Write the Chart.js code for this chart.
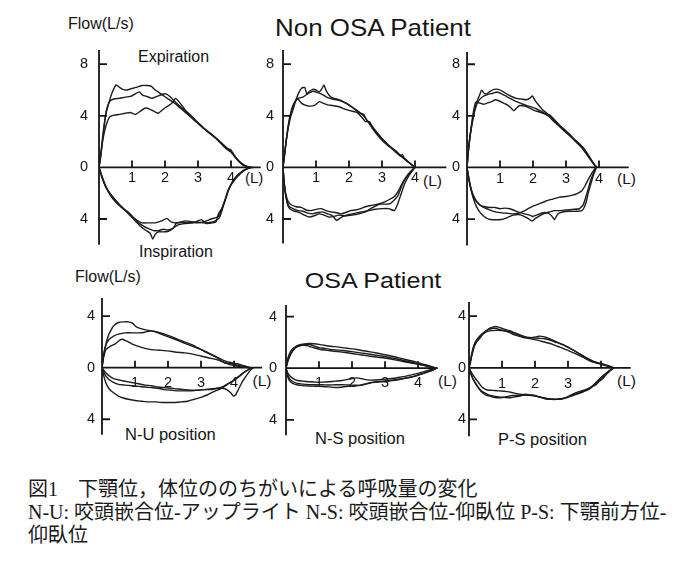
<!DOCTYPE html>
<html lang="ja">
<head>
<meta charset="utf-8">
<title>Flow-volume loops</title>
<script src="https://cdn.jsdelivr.net/npm/chart.js@4.4.1/dist/chart.umd.min.js"></script>
<style>
    html, body { margin: 0; padding: 0; background: #fff; }
    #fig { position: relative; width: 689px; height: 571px; overflow: hidden; font-family: "Liberation Sans", Arial, sans-serif; color: #151515; }
    #fig canvas { position: absolute; }
    .lbl { position: absolute; white-space: nowrap; line-height: 1; }
    .caption { position: absolute; left: 28px; top: 478px; font-family: "Liberation Serif", "Noto Sans CJK JP", serif; font-size: 20px; line-height: 23px; white-space: nowrap; color: #1a1a1a; }
</style>
</head>
<body>
<div id="fig">
    <div class="caption">図1　下顎位，体位ののちがいによる呼吸量の変化<br>N-U: 咬頭嵌合位-アップライト N-S: 咬頭嵌合位-仰臥位 P-S: 下顎前方位-<br>仰臥位</div>
</div>
<script>
// ===== Ticks =====
const yTicksNonOsa = [8, 4, 0, -4];
const yTicksOsa = [4, 0, -4];
const xTicks = [1, 2, 3, 4];
const xLabelsPS = [1, 2, 3];

// ===== Curvas flujo-volumen: [volumen (L), flujo (L/s)], inspiracion negativa =====
// Non OSA - izquierda
const nonOsa1ExpA = [[0,0],[0.05,0.8],[0.12,2.4],[0.2,4.0],[0.3,5.0],[0.4,5.8],[0.52,6.4],[0.62,6.2],[0.72,6.05],[0.85,6.0],[0.98,6.1],[1.12,6.2],[1.3,6.35],[1.45,6.35],[1.58,6.3],[1.7,6.0],[1.82,5.8],[1.95,5.55],[2.1,5.3],[2.25,5.05],[2.4,4.75],[2.6,4.3],[2.8,3.85],[3.0,3.4],[3.2,2.95],[3.4,2.55],[3.6,2.1],[3.75,1.7],[3.9,1.35],[4.0,1.2],[4.1,0.85],[4.2,0.55],[4.35,0.2],[4.55,0]];
const nonOsa1ExpB = [[0,0],[0.06,1.2],[0.14,3.0],[0.22,4.4],[0.32,5.1],[0.45,5.3],[0.6,5.35],[0.8,5.45],[0.95,5.5],[1.1,5.7],[1.22,5.85],[1.32,5.6],[1.45,5.5],[1.6,5.35],[1.75,5.5],[1.9,5.65],[2.02,5.7],[2.15,5.5],[2.3,5.1],[2.45,4.75],[2.6,4.4],[2.8,3.95],[3.0,3.45],[3.2,3.0],[3.4,2.6],[3.6,2.15],[3.8,1.65],[3.95,1.3],[4.05,1.1],[4.15,0.75],[4.3,0.35],[4.45,0.1],[4.6,0]];
const nonOsa1ExpC = [[0,0],[0.05,0.9],[0.12,2.2],[0.22,3.3],[0.32,3.9],[0.45,4.05],[0.6,4.1],[0.8,4.2],[0.95,4.25],[1.1,4.1],[1.25,4.35],[1.4,4.6],[1.55,4.5],[1.7,4.3],[1.8,4.2],[1.92,4.45],[2.05,4.7],[2.2,4.95],[2.32,5.35],[2.42,5.1],[2.5,4.85],[2.6,4.5],[2.75,4.1],[2.95,3.6],[3.15,3.1],[3.35,2.65],[3.55,2.25],[3.75,1.8],[3.9,1.45],[4.0,1.35],[4.08,1.0],[4.2,0.6],[4.35,0.25],[4.5,0.05],[4.65,0]];
const nonOsa1InsA = [[0,0],[0.08,-0.6],[0.18,-1.3],[0.3,-1.9],[0.45,-2.4],[0.6,-2.85],[0.75,-3.2],[0.9,-3.5],[1.05,-3.9],[1.2,-4.3],[1.35,-4.55],[1.5,-4.75],[1.65,-4.9],[1.8,-4.9],[1.95,-4.8],[2.1,-4.85],[2.25,-4.7],[2.4,-4.45],[2.6,-4.35],[2.8,-4.3],[3.0,-4.25],[3.2,-4.3],[3.4,-4.25],[3.55,-4.1],[3.65,-3.9],[3.72,-3.4],[3.8,-2.7],[3.88,-2.0],[3.98,-1.4],[4.1,-0.9],[4.25,-0.5],[4.4,-0.2],[4.6,0]];
const nonOsa1InsB = [[0,0],[0.08,-0.7],[0.2,-1.5],[0.35,-2.1],[0.5,-2.55],[0.65,-2.95],[0.8,-3.35],[0.95,-3.75],[1.1,-4.15],[1.25,-4.55],[1.4,-4.85],[1.55,-5.1],[1.63,-5.55],[1.7,-5.2],[1.8,-5.0],[1.95,-5.0],[2.1,-4.95],[2.25,-4.7],[2.35,-4.3],[2.5,-4.25],[2.7,-4.3],[2.9,-4.25],[3.1,-4.05],[3.25,-4.35],[3.45,-4.3],[3.55,-4.2],[3.62,-3.6],[3.72,-3.2],[3.82,-2.6],[3.92,-1.8],[4.05,-1.1],[4.2,-0.6],[4.38,-0.25],[4.55,0]];
const nonOsa1InsC = [[0,0],[0.1,-0.8],[0.22,-1.6],[0.38,-2.3],[0.55,-2.8],[0.7,-3.15],[0.85,-3.45],[1.0,-3.8],[1.15,-4.1],[1.3,-4.3],[1.5,-4.3],[1.7,-4.3],[1.9,-4.15],[2.05,-3.95],[2.2,-4.25],[2.4,-4.3],[2.6,-4.15],[2.8,-4.2],[3.0,-4.3],[3.2,-4.2],[3.4,-4.0],[3.55,-3.9],[3.65,-3.7],[3.75,-3.0],[3.85,-2.3],[3.95,-1.6],[4.1,-1.0],[4.3,-0.45],[4.5,-0.1],[4.7,0]];

// Non OSA - centro
const nonOsa2ExpA = [[0,0],[0.05,1.0],[0.12,2.5],[0.22,3.8],[0.32,4.6],[0.4,5.3],[0.48,5.8],[0.57,6.15],[0.66,6.2],[0.72,5.7],[0.8,5.9],[0.9,6.05],[1.0,6.0],[1.1,5.85],[1.18,6.1],[1.24,6.4],[1.3,6.0],[1.38,5.65],[1.48,5.4],[1.62,5.3],[1.78,5.15],[1.95,4.9],[2.1,4.65],[2.25,4.35],[2.4,4.1],[2.55,3.65],[2.7,3.05],[2.85,2.55],[3.0,2.1],[3.15,1.75],[3.3,1.45],[3.45,1.1],[3.6,0.8],[3.75,0.5],[3.88,0.25],[4.0,0]];
const nonOsa2ExpB = [[0,0],[0.06,1.3],[0.15,3.0],[0.25,4.3],[0.35,5.0],[0.45,5.35],[0.6,5.45],[0.75,5.7],[0.9,5.9],[1.05,5.8],[1.2,5.65],[1.35,5.4],[1.5,5.3],[1.7,5.2],[1.9,5.0],[2.05,4.75],[2.2,4.5],[2.35,4.2],[2.45,4.1],[2.55,3.6],[2.7,3.2],[2.85,2.7],[3.0,2.25],[3.15,1.85],[3.3,1.5],[3.45,1.2],[3.55,0.9],[3.62,1.0],[3.7,0.6],[3.85,0.3],[4.0,0]];
const nonOsa2ExpC = [[0,0],[0.07,1.5],[0.16,3.3],[0.26,4.5],[0.36,5.1],[0.45,5.3],[0.55,5.0],[0.65,4.85],[0.8,4.75],[0.95,4.8],[1.1,5.1],[1.2,5.0],[1.35,4.85],[1.5,4.8],[1.7,4.7],[1.9,4.5],[2.1,4.35],[2.25,4.25],[2.4,3.85],[2.5,3.55],[2.62,3.55],[2.72,3.1],[2.85,2.6],[3.0,2.2],[3.15,1.8],[3.3,1.5],[3.45,1.2],[3.6,0.85],[3.75,0.55],[3.9,0.2],[3.98,0]];
const nonOsa2InsA = [[0,0],[0.03,-1.0],[0.08,-2.0],[0.15,-2.6],[0.25,-2.9],[0.4,-3.05],[0.55,-3.1],[0.7,-3.3],[0.85,-3.35],[1.0,-3.25],[1.15,-3.2],[1.3,-3.35],[1.45,-3.45],[1.6,-3.5],[1.75,-3.6],[1.9,-3.5],[2.05,-3.35],[2.2,-3.3],[2.35,-3.2],[2.5,-3.05],[2.65,-2.95],[2.8,-2.9],[2.95,-2.8],[3.1,-2.65],[3.25,-2.45],[3.38,-2.25],[3.48,-1.9],[3.58,-1.4],[3.68,-0.95],[3.8,-0.55],[3.9,-0.25],[4.0,0]];
const nonOsa2InsB = [[0,0],[0.04,-1.3],[0.1,-2.4],[0.18,-3.0],[0.3,-3.2],[0.45,-3.35],[0.6,-3.4],[0.75,-3.55],[0.9,-3.6],[1.05,-3.5],[1.2,-3.45],[1.35,-3.6],[1.5,-3.75],[1.62,-4.1],[1.72,-3.95],[1.82,-3.8],[2.0,-3.65],[2.2,-3.55],[2.4,-3.45],[2.6,-3.35],[2.8,-3.25],[3.0,-3.2],[3.2,-3.2],[3.38,-3.35],[3.45,-3.0],[3.52,-2.5],[3.6,-1.9],[3.68,-1.3],[3.78,-0.8],[3.9,-0.35],[4.0,0]];
const nonOsa2InsC = [[0,0],[0.05,-1.6],[0.12,-2.7],[0.2,-3.2],[0.35,-3.4],[0.5,-3.5],[0.65,-3.7],[0.8,-3.85],[0.95,-3.75],[1.1,-3.6],[1.25,-3.7],[1.4,-3.85],[1.55,-3.8],[1.7,-3.7],[1.9,-3.75],[2.1,-3.7],[2.3,-3.6],[2.5,-3.45],[2.65,-3.2],[2.8,-3.0],[2.95,-2.85],[3.1,-2.85],[3.25,-2.8],[3.38,-2.5],[3.48,-2.2],[3.56,-1.7],[3.62,-1.3],[3.72,-0.8],[3.85,-0.35],[4.0,0]];

// Non OSA - derecha
const nonOsa3ExpA = [[0,0],[0.03,1.0],[0.08,2.2],[0.15,3.3],[0.22,4.3],[0.3,5.1],[0.38,5.6],[0.44,6.0],[0.52,5.75],[0.6,5.7],[0.7,5.9],[0.82,6.05],[0.95,6.05],[1.08,5.9],[1.2,5.7],[1.35,5.5],[1.5,5.35],[1.65,5.3],[1.8,5.25],[1.92,5.4],[1.98,5.55],[2.06,5.2],[2.15,4.9],[2.28,4.5],[2.42,4.2],[2.55,3.9],[2.7,3.5],[2.85,3.15],[3.0,2.75],[3.15,2.4],[3.3,2.05],[3.45,1.65],[3.58,1.2],[3.7,0.75],[3.82,0.35],[3.92,0]];
const nonOsa3ExpB = [[0,0],[0.04,1.2],[0.1,2.6],[0.18,3.8],[0.27,4.7],[0.36,5.2],[0.48,5.5],[0.62,5.65],[0.78,5.75],[0.92,5.85],[1.05,5.7],[1.2,5.5],[1.35,5.3],[1.5,5.1],[1.65,4.95],[1.8,4.8],[1.95,4.7],[2.1,4.55],[2.25,4.35],[2.4,4.15],[2.52,4.05],[2.65,3.7],[2.8,3.3],[2.95,2.95],[3.1,2.6],[3.25,2.2],[3.4,1.85],[3.55,1.45],[3.68,0.95],[3.8,0.45],[3.9,0]];
const nonOsa3ExpC = [[0,0],[0.05,1.5],[0.12,3.0],[0.2,4.4],[0.26,5.05],[0.38,5.0],[0.5,4.9],[0.62,5.0],[0.75,5.1],[0.86,5.25],[0.98,5.15],[1.1,5.0],[1.22,4.85],[1.32,4.65],[1.42,4.4],[1.52,4.65],[1.6,4.8],[1.75,4.75],[1.9,4.6],[2.05,4.4],[2.2,4.3],[2.35,4.15],[2.48,3.95],[2.6,3.65],[2.75,3.3],[2.9,2.95],[3.05,2.6],[3.2,2.25],[3.35,1.85],[3.5,1.45],[3.62,1.05],[3.75,0.6],[3.85,0.25],[3.95,0]];
const nonOsa3InsA = [[0,0],[0.05,-0.8],[0.12,-1.6],[0.2,-2.2],[0.3,-2.65],[0.42,-2.95],[0.55,-3.05],[0.7,-3.1],[0.85,-3.1],[1.0,-3.2],[1.15,-3.15],[1.3,-3.2],[1.45,-3.35],[1.6,-3.5],[1.75,-3.6],[1.9,-3.7],[2.0,-3.8],[2.1,-3.7],[2.25,-3.55],[2.4,-3.5],[2.55,-3.7],[2.65,-4.05],[2.75,-3.6],[2.9,-3.45],[3.1,-3.4],[3.3,-3.4],[3.48,-3.35],[3.55,-3.1],[3.62,-2.6],[3.68,-1.9],[3.75,-1.3],[3.83,-0.6],[3.92,0]];
const nonOsa3InsB = [[0,0],[0.06,-1.0],[0.14,-1.9],[0.24,-2.5],[0.36,-2.85],[0.5,-3.1],[0.65,-3.25],[0.8,-3.4],[1.0,-3.5],[1.2,-3.55],[1.4,-3.6],[1.55,-3.55],[1.7,-3.4],[1.85,-3.2],[2.0,-3.0],[2.2,-2.8],[2.4,-2.6],[2.6,-2.45],[2.8,-2.3],[3.0,-2.25],[3.2,-2.15],[3.35,-2.0],[3.48,-1.8],[3.58,-1.4],[3.68,-0.9],[3.78,-0.45],[3.9,0]];
const nonOsa3InsC = [[0,0],[0.04,-0.6],[0.1,-1.4],[0.18,-2.3],[0.28,-3.0],[0.4,-3.5],[0.52,-3.8],[0.65,-4.0],[0.8,-4.05],[0.95,-4.05],[1.1,-4.0],[1.25,-3.85],[1.4,-3.7],[1.55,-3.65],[1.7,-3.75],[1.85,-3.95],[1.97,-4.15],[2.07,-3.95],[2.2,-3.75],[2.35,-3.55],[2.5,-3.45],[2.65,-3.35],[2.8,-3.35],[3.0,-3.3],[3.2,-3.25],[3.4,-3.2],[3.52,-2.9],[3.6,-2.3],[3.68,-1.6],[3.76,-0.9],[3.85,-0.35],[3.92,0]];

// OSA - N-U
const osaNUExpA = [[0,0],[0.04,0.8],[0.1,1.6],[0.18,2.4],[0.28,2.95],[0.38,3.3],[0.5,3.5],[0.65,3.55],[0.8,3.55],[0.92,3.45],[1.02,3.2],[1.15,3.05],[1.3,2.95],[1.5,2.85],[1.7,2.75],[1.9,2.6],[2.1,2.4],[2.3,2.2],[2.5,2.0],[2.7,1.8],[2.9,1.55],[3.1,1.3],[3.3,1.05],[3.5,0.8],[3.7,0.55],[3.9,0.4],[4.1,0.3],[4.3,0.15],[4.5,0]];
const osaNUExpB = [[0,0],[0.05,1.0],[0.12,1.8],[0.22,2.2],[0.35,2.45],[0.5,2.6],[0.7,2.7],[0.9,2.7],[1.1,2.7],[1.3,2.75],[1.5,2.85],[1.6,2.8],[1.75,2.65],[1.95,2.45],[2.15,2.25],[2.35,2.05],[2.55,1.85],[2.75,1.65],[2.95,1.45],[3.15,1.2],[3.35,0.95],[3.55,0.65],[3.7,0.4],[3.9,0.3],[4.1,0.2],[4.3,0.08],[4.45,0]];
const osaNUExpC = [[0,0],[0.05,0.8],[0.12,1.4],[0.25,1.65],[0.4,1.85],[0.55,2.15],[0.62,2.2],[0.75,2.05],[0.9,1.85],[1.1,1.65],[1.3,1.5],[1.5,1.4],[1.75,1.35],[2.0,1.3],[2.25,1.2],[2.5,1.15],[2.75,1.05],[3.0,0.9],[3.25,0.75],[3.5,0.6],[3.7,0.4],[3.85,0.25],[4.05,0.15],[4.25,0.05],[4.45,0]];
const osaNUInsA = [[0,0],[0.08,-0.3],[0.2,-0.6],[0.35,-0.85],[0.5,-0.95],[0.7,-1.05],[0.9,-1.15],[1.1,-1.25],[1.3,-1.35],[1.5,-1.4],[1.7,-1.5],[1.9,-1.55],[2.1,-1.6],[2.3,-1.65],[2.5,-1.7],[2.7,-1.75],[2.9,-1.75],[3.1,-1.7],[3.3,-1.7],[3.5,-1.6],[3.65,-1.5],[3.78,-1.3],[3.92,-1.1],[4.05,-0.9],[4.2,-0.6],[4.35,-0.3],[4.5,-0.08],[4.6,0]];
const osaNUInsB = [[0,0],[0.08,-0.5],[0.2,-0.9],[0.35,-1.15],[0.5,-1.3],[0.7,-1.35],[0.9,-1.4],[1.1,-1.45],[1.3,-1.5],[1.5,-1.55],[1.7,-1.6],[1.9,-1.7],[2.1,-1.75],[2.3,-1.8],[2.5,-1.8],[2.7,-1.8],[2.9,-1.75],[3.1,-1.7],[3.3,-1.65],[3.5,-1.6],[3.65,-1.6],[3.78,-1.7],[3.9,-1.95],[3.98,-2.2],[4.05,-2.1],[4.15,-1.6],[4.25,-1.1],[4.38,-0.6],[4.48,-0.25],[4.58,0]];
const osaNUInsC = [[0,0],[0.05,-0.6],[0.12,-1.2],[0.22,-1.65],[0.35,-1.95],[0.5,-2.2],[0.65,-2.35],[0.8,-2.45],[1.0,-2.55],[1.2,-2.6],[1.4,-2.65],[1.6,-2.65],[1.8,-2.7],[2.0,-2.7],[2.2,-2.7],[2.4,-2.65],[2.6,-2.6],[2.8,-2.45],[3.0,-2.3],[3.2,-2.1],[3.35,-1.9],[3.5,-1.75],[3.65,-1.55],[3.8,-1.3],[3.95,-1.05],[4.1,-0.75],[4.25,-0.45],[4.4,-0.2],[4.52,0]];

// OSA - N-S
const osaNSExpA = [[0,0],[0.05,0.55],[0.12,1.0],[0.2,1.35],[0.28,1.6],[0.36,1.75],[0.45,1.78],[0.55,1.78],[0.65,1.75],[0.75,1.65],[0.9,1.55],[1.05,1.45],[1.25,1.38],[1.45,1.32],[1.65,1.27],[1.85,1.2],[2.05,1.12],[2.3,1.02],[2.55,0.93],[2.8,0.85],[3.05,0.77],[3.3,0.65],[3.55,0.52],[3.8,0.4],[4.05,0.28],[4.3,0.15],[4.45,0.08],[4.56,0]];
const osaNSExpB = [[0,0],[0.04,0.6],[0.1,1.1],[0.18,1.45],[0.28,1.65],[0.4,1.8],[0.55,1.88],[0.7,1.92],[0.85,1.9],[1.0,1.85],[1.15,1.78],[1.35,1.7],[1.55,1.65],[1.75,1.58],[1.95,1.52],[2.15,1.45],[2.35,1.35],[2.55,1.27],[2.75,1.18],[2.95,1.07],[3.15,0.97],[3.35,0.85],[3.55,0.72],[3.75,0.6],[3.95,0.47],[4.15,0.32],[4.35,0.17],[4.5,0.05],[4.56,0]];
const osaNSExpC = [[0,0],[0.03,0.3],[0.08,0.7],[0.15,1.1],[0.22,1.4],[0.3,1.6],[0.4,1.72],[0.52,1.8],[0.65,1.85],[0.75,1.82],[0.88,1.7],[1.0,1.6],[1.15,1.55],[1.3,1.48],[1.5,1.42],[1.7,1.38],[1.9,1.32],[2.1,1.25],[2.3,1.17],[2.5,1.1],[2.7,1.02],[2.9,0.95],[3.1,0.85],[3.3,0.75],[3.5,0.64],[3.7,0.52],[3.9,0.4],[4.1,0.27],[4.3,0.13],[4.45,0.05],[4.56,0]];
const osaNSInsA = [[0,0],[0.05,-0.35],[0.12,-0.6],[0.22,-0.8],[0.35,-0.95],[0.5,-1.0],[0.7,-1.05],[0.9,-1.08],[1.1,-1.08],[1.3,-1.05],[1.5,-1.0],[1.7,-0.95],[1.85,-0.88],[2.0,-0.8],[2.15,-0.75],[2.3,-0.82],[2.45,-0.9],[2.6,-0.92],[2.8,-0.9],[3.0,-0.85],[3.2,-0.8],[3.4,-0.72],[3.6,-0.63],[3.8,-0.52],[4.0,-0.4],[4.2,-0.25],[4.4,-0.1],[4.56,0]];
const osaNSInsB = [[0,0],[0.05,-0.5],[0.12,-0.85],[0.22,-1.05],[0.35,-1.18],[0.5,-1.23],[0.7,-1.27],[0.9,-1.28],[1.1,-1.28],[1.3,-1.3],[1.5,-1.28],[1.7,-1.28],[1.9,-1.3],[2.1,-1.32],[2.25,-1.33],[2.4,-1.25],[2.55,-1.15],[2.7,-1.1],[2.9,-1.05],[3.1,-1.0],[3.3,-0.93],[3.5,-0.85],[3.7,-0.75],[3.9,-0.62],[4.1,-0.45],[4.3,-0.27],[4.45,-0.12],[4.56,0]];
const osaNSInsC = [[0,0],[0.04,-0.55],[0.1,-0.95],[0.2,-1.18],[0.35,-1.3],[0.5,-1.35],[0.7,-1.38],[0.9,-1.4],[1.1,-1.42],[1.3,-1.45],[1.5,-1.5],[1.65,-1.48],[1.8,-1.42],[2.0,-1.4],[2.2,-1.35],[2.4,-1.22],[2.55,-1.12],[2.75,-1.05],[2.95,-1.0],[3.15,-0.95],[3.35,-0.88],[3.55,-0.8],[3.75,-0.7],[3.95,-0.57],[4.15,-0.42],[4.35,-0.25],[4.5,-0.08],[4.56,0]];

// OSA - P-S
const osaPSExpA = [[0,0],[0.03,0.4],[0.07,0.8],[0.12,1.3],[0.17,1.7],[0.22,1.95],[0.3,2.2],[0.42,2.6],[0.52,2.85],[0.62,3.05],[0.72,3.15],[0.8,3.2],[0.9,3.15],[1.0,3.05],[1.12,2.95],[1.25,2.85],[1.4,2.7],[1.55,2.55],[1.7,2.4],[1.85,2.3],[2.0,2.38],[2.12,2.45],[2.25,2.42],[2.4,2.3],[2.55,2.12],[2.7,1.95],[2.85,1.8],[3.0,1.6],[3.15,1.38],[3.3,1.15],[3.45,0.92],[3.6,0.7],[3.75,0.52],[3.9,0.4],[4.05,0.3],[4.2,0.18],[4.3,0.08],[4.39,0]];
const osaPSExpB = [[0,0],[0.04,0.35],[0.08,0.9],[0.13,1.5],[0.2,2.0],[0.28,2.3],[0.37,2.5],[0.47,2.7],[0.57,2.82],[0.7,2.88],[0.85,2.9],[1.0,2.88],[1.13,2.82],[1.25,2.7],[1.38,2.55],[1.5,2.45],[1.65,2.35],[1.8,2.28],[1.95,2.2],[2.1,2.12],[2.25,2.02],[2.4,1.92],[2.55,1.8],[2.7,1.65],[2.85,1.5],[3.0,1.35],[3.15,1.18],[3.3,1.0],[3.45,0.82],[3.6,0.62],[3.75,0.45],[3.9,0.35],[4.05,0.25],[4.2,0.15],[4.32,0.05],[4.39,0]];
const osaPSExpC = [[0,0],[0.04,0.55],[0.09,1.2],[0.15,1.75],[0.22,2.1],[0.32,2.45],[0.45,2.75],[0.58,2.95],[0.7,3.05],[0.82,3.05],[0.95,2.95],[1.1,2.85],[1.25,2.8],[1.4,2.65],[1.55,2.5],[1.7,2.4],[1.85,2.35],[2.0,2.3],[2.15,2.28],[2.3,2.25],[2.45,2.15],[2.6,2.0],[2.75,1.88],[2.9,1.72],[3.05,1.52],[3.2,1.32],[3.35,1.08],[3.5,0.85],[3.65,0.65],[3.8,0.45],[3.95,0.32],[4.1,0.2],[4.25,0.1],[4.39,0]];
const osaPSInsA = [[0,0],[0.05,-0.25],[0.12,-0.55],[0.2,-0.85],[0.28,-1.1],[0.36,-1.4],[0.45,-1.6],[0.55,-1.72],[0.7,-1.75],[0.85,-1.78],[1.0,-1.8],[1.15,-1.85],[1.3,-1.92],[1.45,-2.0],[1.6,-2.07],[1.75,-2.12],[1.9,-2.15],[2.05,-2.2],[2.2,-2.3],[2.35,-2.42],[2.5,-2.45],[2.65,-2.45],[2.8,-2.4],[2.95,-2.3],[3.1,-2.1],[3.25,-1.92],[3.4,-1.8],[3.55,-1.68],[3.7,-1.5],[3.85,-1.3],[3.95,-1.05],[4.05,-0.85],[4.15,-0.55],[4.25,-0.3],[4.39,0]];
const osaPSInsB = [[0,0],[0.04,-0.35],[0.1,-0.75],[0.17,-1.05],[0.25,-1.4],[0.33,-1.7],[0.42,-1.95],[0.52,-2.12],[0.62,-2.2],[0.75,-2.28],[0.9,-2.32],[1.05,-2.28],[1.2,-2.2],[1.35,-2.15],[1.5,-2.13],[1.65,-2.12],[1.8,-2.12],[1.95,-2.15],[2.1,-2.25],[2.25,-2.32],[2.4,-2.4],[2.55,-2.43],[2.7,-2.45],[2.85,-2.4],[3.0,-2.28],[3.15,-2.15],[3.3,-2.02],[3.45,-1.88],[3.6,-1.72],[3.72,-1.5],[3.82,-1.25],[3.92,-1.05],[4.02,-0.8],[4.12,-0.55],[4.22,-0.3],[4.32,-0.1],[4.39,0]];
const osaPSInsC = [[0,0],[0.05,-0.4],[0.12,-0.85],[0.2,-1.25],[0.3,-1.6],[0.4,-1.85],[0.52,-2.0],[0.65,-2.15],[0.8,-2.22],[0.95,-2.28],[1.1,-2.3],[1.25,-2.32],[1.4,-2.25],[1.55,-2.2],[1.7,-2.05],[1.85,-2.1],[2.0,-2.15],[2.15,-2.28],[2.3,-2.38],[2.45,-2.42],[2.6,-2.45],[2.75,-2.4],[2.9,-2.35],[3.05,-2.2],[3.2,-2.05],[3.35,-1.92],[3.5,-1.78],[3.65,-1.58],[3.78,-1.32],[3.9,-1.0],[4.02,-0.7],[4.15,-0.42],[4.28,-0.18],[4.39,0]];

// ===== Layout (pixeles) =====
const KX = 33;     // px por litro
const KY = 12.9;   // px por L/s
const PAD = { left: 40, top: 6, right: 10, bottom: 6 };

const panels = [
    { traces: [nonOsa1ExpA, nonOsa1ExpB, nonOsa1ExpC, nonOsa1InsA, nonOsa1InsB, nonOsa1InsC], yTicks: yTicksNonOsa, xLabels: xTicks,
      x0: 99, y0: 167, xEnd: 4.9, yTop: 9.1, yBot: -6.0, gap: 11, labelDy: 15 },
    { traces: [nonOsa2ExpA, nonOsa2ExpB, nonOsa2ExpC, nonOsa2InsA, nonOsa2InsB, nonOsa2InsC], yTicks: yTicksNonOsa, xLabels: xTicks,
      x0: 283, y0: 167, xEnd: 4.95, yTop: 9.1, yBot: -5.9, gap: 9, labelDy: 15 },
    { traces: [nonOsa3ExpA, nonOsa3ExpB, nonOsa3ExpC, nonOsa3InsA, nonOsa3InsB, nonOsa3InsC], yTicks: yTicksNonOsa, xLabels: xTicks,
      x0: 467, y0: 167, xEnd: 4.9, yTop: 8.95, yBot: -6.05, gap: 7, labelDy: 16 },
    { traces: [osaNUExpA, osaNUExpB, osaNUExpC, osaNUInsA, osaNUInsB, osaNUInsC], yTicks: yTicksOsa, xLabels: xTicks,
      x0: 101.5, y0: 368, xEnd: 4.85, yTop: 5.4, yBot: -5.2, gap: 7, labelDy: 19 },
    { traces: [osaNSExpA, osaNSExpB, osaNSExpC, osaNSInsA, osaNSInsB, osaNSInsC], yTicks: yTicksOsa, xLabels: xTicks,
      x0: 286, y0: 368, xEnd: 4.6, yTop: 4.9, yBot: -5.2, gap: 9, labelDy: 19 },
    { traces: [osaPSExpA, osaPSExpB, osaPSExpC, osaPSInsA, osaPSInsB, osaPSInsC], yTicks: yTicksOsa, xLabels: xLabelsPS,
      x0: 469, y0: 368, xEnd: 4.9, yTop: 5.1, yBot: -5.3, gap: 3, labelDy: 20 }
];

// Textos: [texto, x izquierda, linea base, tamano]
const textLabels = [
    ['Flow(L/s)', 68, 29.5, 16],
    ['Expiration', 138, 63, 16],
    ['Inspiration', 139, 257.5, 16],
    ['Flow(L/s)', 75, 283, 16],
    ['N-U position', 125, 440, 16.5],
    ['N-S position', 315, 443.5, 16.5],
    ['P-S position', 498, 445, 16.5],
    ['(L)', 245, 182.5, 15],
    ['(L)', 423, 186.5, 15.5],
    ['(L)', 617, 184, 15.5],
    ['(L)', 252.5, 386.5, 15.5],
    ['(L)', 438, 386.5, 15.5],
    ['(L)', 617, 386.5, 15.5]
];
// Titulos: [texto, centro x, linea base, tamano, escala horizontal]
const titles = [
    ['Non OSA Patient', 373, 36.7, 24, 1.08],
    ['OSA Patient', 372.5, 288.7, 22, 1.14]
];

const fig = document.getElementById('fig');

function addText(text, x, base, size, center, scale) {
    const el = document.createElement('div');
    el.className = 'lbl';
    el.textContent = text;
    el.style.fontSize = size + 'px';
    el.style.left = x + 'px';
    el.style.top = (base - 0.8465 * size) + 'px';
    if (center) el.style.transform = `translateX(-50%) scaleX(${scale})`;
    fig.appendChild(el);
}

textLabels.forEach(([t, x, b, s]) => addText(t, x, b, s, false));
titles.forEach(([t, x, b, s, k]) => addText(t, x, b, s, true, k));

// Ejes cruzados en el origen, dibujados con las escalas del grafico
function makeAxesPlugin(p) {
    return {
        id: 'crossAxes',
        beforeDatasetsDraw(chart) {
            const { ctx, scales: { x, y } } = chart;
            const px = x.getPixelForValue(0);
            const py = y.getPixelForValue(0);
            ctx.save();
            ctx.strokeStyle = '#151515';
            ctx.lineWidth = 1.8;
            ctx.beginPath();
            ctx.moveTo(px, y.getPixelForValue(p.yTop));
            ctx.lineTo(px, y.getPixelForValue(p.yBot));
            ctx.moveTo(px, py);
            ctx.lineTo(x.getPixelForValue(p.xEnd), py);
            p.yTicks.forEach(v => {
                if (v === 0) return;
                const ty = y.getPixelForValue(v);
                ctx.moveTo(px, ty);
                ctx.lineTo(px + 8, ty);
            });
            xTicks.forEach(v => {
                const tx = x.getPixelForValue(v);
                ctx.moveTo(tx, py);
                ctx.lineTo(tx, py - 7);
            });
            ctx.stroke();

            ctx.fillStyle = '#151515';
            ctx.font = '14.5px "Liberation Sans", Arial, sans-serif';
            ctx.textAlign = 'right';
            ctx.textBaseline = 'middle';
            p.yTicks.forEach(v => ctx.fillText(String(Math.abs(v)), px - p.gap, y.getPixelForValue(v)));
            ctx.textAlign = 'center';
            ctx.textBaseline = 'alphabetic';
            p.xLabels.forEach(v => ctx.fillText(String(v), x.getPixelForValue(v), py + p.labelDy));
            ctx.restore();
        }
    };
}

panels.forEach(p => {
    const canvas = document.createElement('canvas');
    const w = PAD.left + p.xEnd * KX + PAD.right;
    const h = PAD.top + (p.yTop - p.yBot) * KY + PAD.bottom;
    canvas.width = Math.round(w);
    canvas.height = Math.round(h);
    canvas.style.left = (p.x0 - PAD.left) + 'px';
    canvas.style.top = (p.y0 - p.yTop * KY - PAD.top) + 'px';
    fig.appendChild(canvas);

    new Chart(canvas.getContext('2d'), {
        type: 'scatter',
        data: {
            datasets: p.traces.map(tr => ({
                data: tr.map(([v, f]) => ({ x: v, y: f })),
                showLine: true,
                borderColor: '#1c1c1c',
                borderWidth: 1.4,
                pointRadius: 0,
                tension: 0.15,
                fill: false
            }))
        },
        options: {
            responsive: false,
            animation: false,
            events: [],
            layout: { padding: { left: PAD.left, top: PAD.top, right: canvas.width - PAD.left - p.xEnd * KX, bottom: canvas.height - PAD.top - (p.yTop - p.yBot) * KY } },
            plugins: { legend: { display: false }, tooltip: { enabled: false } },
            scales: {
                x: { type: 'linear', min: 0, max: p.xEnd, display: false },
                y: { type: 'linear', min: p.yBot, max: p.yTop, display: false }
            }
        },
        plugins: [makeAxesPlugin(p)]
    });
});
</script>
</body>
</html>
